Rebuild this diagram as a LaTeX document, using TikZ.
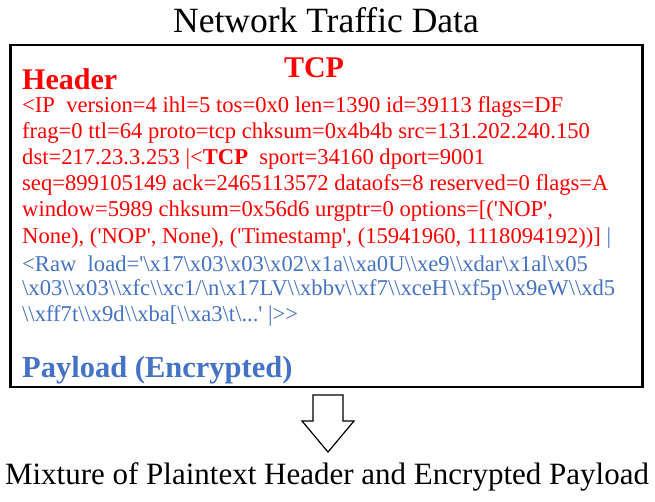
\documentclass[tikz,border=0pt]{standalone}
\usepackage{fontspec}
\setmainfont{Liberation Serif}
\definecolor{pblue}{HTML}{4472C4}
\newcommand{\bs}{\textbackslash}
\newcommand{\q}{\textquotesingle}
\begin{document}
\begin{tikzpicture}[x=1pt,y=-1pt,
  ln/.style={anchor=west,inner sep=0pt,font=\fontsize{22.6}{22.6}\selectfont},
  rd/.style={ln,text=red},
  bl/.style={ln,text=pblue}]
\useasboundingbox (0,0) rectangle (655,501);
\node[font=\fontsize{35.5}{35.5}\selectfont] (title) at (326,20) {Network Traffic Data};
\node[draw,line width=2.5pt,minimum width=632,minimum height=342,inner sep=0pt] (box) at (326.5,216) {};
\node[anchor=west,inner sep=0pt,text=red,font=\fontsize{30}{30}\selectfont\bfseries] (hdr) at (22,79) {Header};
\node[inner sep=0pt,text=red,font=\fontsize{30}{30}\selectfont\bfseries] (tcp) at (314,68) {TCP};
\node[rd] (l1) at (22,107) {<IP\ \ version=4 ihl=5 tos=0x0 len=1390 id=39113 flags=DF};
\node[rd] (l2) at (22,133) {frag=0 ttl=64 proto=tcp chksum=0x4b4b src=131.202.240.150};
\node[rd] (l3) at (22,159) {dst=217.23.3.253 \textbar<\textbf{TCP}\ \ sport=34160 dport=9001};
\node[rd] (l4) at (22,185) {seq=899105149 ack=2465113572 dataofs=8 reserved=0 flags=A};
\node[rd] (l5) at (22,211) {window=5989 chksum=0x56d6 urgptr=0 options=[(\q NOP\q,};
\node[rd] (l6) at (22,238) {None), (\q NOP\q, None), (\q Timestamp\q, (15941960, 1118094192))] \textcolor{pblue}{\textbar}};
\node[bl] (l7) at (22,264) {<Raw\ \ load=\q\bs x17\bs x03\bs x03\bs x02\bs x1a\bs\bs xa0U\bs\bs xe9\bs\bs xdar\bs x1al\bs x05};
\node[bl] (l8) at (22,290) {\bs x03\bs\bs x03\bs\bs xfc\bs\bs xc1/\bs n\bs x17LV\bs\bs xbbv\bs\bs xf7\bs\bs xceH\bs\bs xf5p\bs\bs x9eW\bs\bs xd5};
\node[bl] (l9) at (22,316) {\bs\bs xff7t\bs\bs x9d\bs\bs xba[\bs\bs xa3\bs t\bs...\q\ \textbar>{}>};
\node[anchor=west,inner sep=0pt,text=pblue,font=\fontsize{30.5}{30.5}\selectfont\bfseries] (pay) at (22,370) {Payload (Encrypted)};
\coordinate (tip) at (328,452);
\draw[line width=1.2pt,line join=miter] (313,395) -- (343,395) -- (343,421) -- (354,421) -- (tip) -- (302,421) -- (313,421) -- cycle;
\node[font=\fontsize{31}{31}\selectfont] (bot) at (327,477) {Mixture of Plaintext Header and Encrypted Payload};
\end{tikzpicture}
\end{document}
